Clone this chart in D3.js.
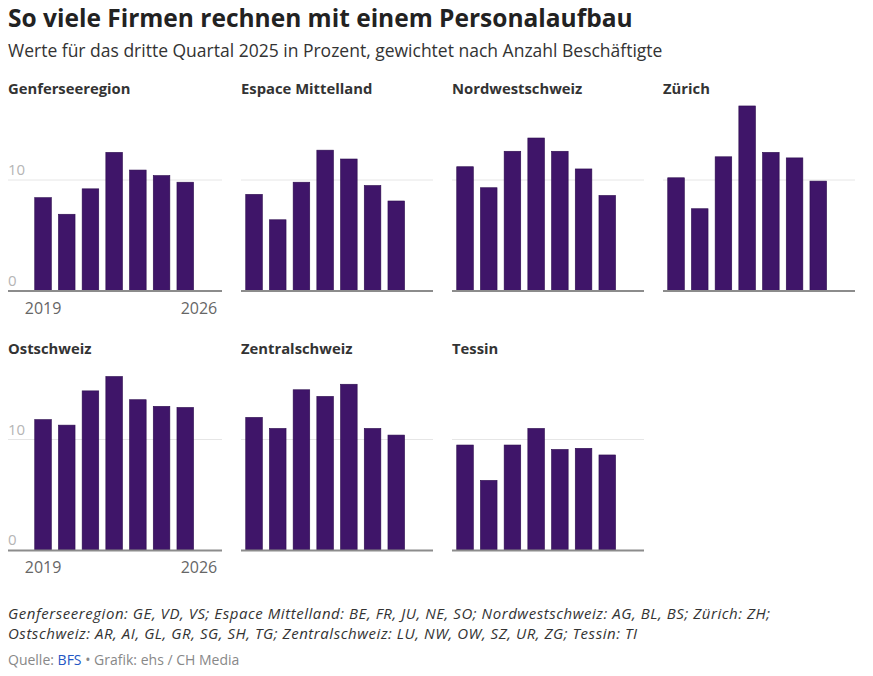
<!DOCTYPE html>
<html>
<head>
<meta charset="utf-8">
<script src="https://cdn.jsdelivr.net/npm/d3@7"></script>
<style>
  body { margin: 0; background: #fff; }
  svg { font-family: "Open Sans", Roboto, sans-serif; }
</style>
</head>
<body>
<svg id="chart" width="873" height="676"></svg>
<script>
// data (percent, Q3 of each year)
const years = ["2019", "2020", "2021", "2022", "2023", "2024", "2025", "2026"];
const regions = ["Genferseeregion", "Espace Mittelland", "Nordwestschweiz", "Zürich",
                 "Ostschweiz", "Zentralschweiz", "Tessin"];
const genf   = [8.4, 6.9, 9.2, 12.5, 10.9, 10.4, 9.8];
const espace = [8.7, 6.4, 9.8, 12.7, 11.9, 9.5, 8.1];
const nordw  = [11.2, 9.3, 12.6, 13.8, 12.6, 11.0, 8.6];
const zuerich = [10.2, 7.4, 12.1, 16.7, 12.5, 12.0, 9.9];
const ostch  = [11.8, 11.3, 14.4, 15.7, 13.6, 13.0, 12.9];
const zentral = [12.0, 11.0, 14.5, 13.9, 15.0, 11.0, 10.4];
const tessin = [9.5, 6.3, 9.5, 11.0, 9.1, 9.2, 8.6];
const seriesList = [genf, espace, nordw, zuerich, ostch, zentral, tessin];
const yTicks = [0, 10];
const xLabels = ["2019", "2026"];

const svg = d3.select("#chart");

svg.append("text")
    .attr("x", 8).attr("y", 26.5)
    .style("font-size", "24.5px").style("font-weight", 700).style("fill", "#222")
    .text("So viele Firmen rechnen mit einem Personalaufbau");

svg.append("text")
    .attr("x", 8).attr("y", 57)
    .style("font-size", "17.5px").style("fill", "#333")
    .text("Werte für das dritte Quartal 2025 in Prozent, gewichtet nach Anzahl Beschäftigte");

let plotW = 192, labelW = 22, colStep = 211, rowStep = 259.5;

let x = d3.scaleBand()
    .domain(years)
    .range([0, plotW])
    .paddingInner(0.3)
    .paddingOuter(0.2);

regions.forEach(function (name, i) {
    let col = i % 4, row = Math.floor(i / 4);
    let left = 30 + col * colStep;
    let base = 290.5 + row * rowStep;
    let y = d3.scaleLinear().domain([0, 17]).range([base, base - 17 * 11.05]);
    let hasLabels = col == 0;
    let lineStart = hasLabels ? left - labelW : left;

    let g = svg.append("g").attr("transform", "translate(" + left + ",0)");

    svg.append("text")
        .attr("x", lineStart).attr("y", 94 + row * 260)
        .style("font-size", "14.8px").style("font-weight", 700).style("fill", "#333")
        .text(name);

    // gridline at 10
    g.selectAll(".grid")
        .data(yTicks.filter(d => d > 0))
        .join("line")
        .attr("x1", lineStart - left).attr("x2", plotW)
        .attr("y1", d => y(d)).attr("y2", d => y(d))
        .attr("stroke", "#e6e6e6").attr("stroke-width", 1);

    if (hasLabels) {
        g.selectAll(".ylab")
            .data(yTicks)
            .join("text")
            .attr("x", lineStart - left).attr("y", d => y(d) - 5)
            .style("font-size", "15px").style("fill", "#b5b5b5")
            .text(d => d);

        g.selectAll(".xlab")
            .data(xLabels)
            .join("text")
            .attr("x", (d, j) => j == 0 ? x(d) + x.bandwidth() / 2 : x(d) + x.bandwidth())
            .attr("y", base + 23)
            .attr("text-anchor", (d, j) => j == 0 ? "middle" : "end")
            .style("font-size", "16px").style("fill", "#666")
            .text(d => d);
    }

    g.selectAll("rect")
        .data(seriesList[i])
        .join("rect")
        .attr("x", (d, j) => x(years[j]))
        .attr("y", d => y(d))
        .attr("width", x.bandwidth())
        .attr("height", d => base - y(d))
        .attr("fill", "#3f1569")
        .attr("stroke", "#2b0b4d")
        .attr("stroke-width", 0.6);

    g.append("line")
        .attr("x1", lineStart - left).attr("x2", plotW)
        .attr("y1", base + 0.5).attr("y2", base + 0.5)
        .attr("stroke", "#8c8c8c").attr("stroke-width", 2);
});

let notes = svg.append("g")
    .style("font-size", "15px").style("font-style", "italic")
    .style("letter-spacing", "0.55px").style("fill", "#333");
notes.append("text").attr("x", 8).attr("y", 619)
    .text("Genferseeregion: GE, VD, VS; Espace Mittelland: BE, FR, JU, NE, SO; Nordwestschweiz: AG, BL, BS; Zürich: ZH;");
notes.append("text").attr("x", 8).attr("y", 639)
    .text("Ostschweiz: AR, AI, GL, GR, SG, SH, TG; Zentralschweiz: LU, NW, OW, SZ, UR, ZG; Tessin: TI");

let src = svg.append("text").attr("x", 8).attr("y", 665)
    .style("font-size", "14px").style("fill", "#888");
src.append("tspan").text("Quelle: ");
src.append("tspan").style("fill", "#2456c4").text("BFS");
src.append("tspan").text(" • Grafik: ehs / CH Media");
</script>
</body>
</html>
